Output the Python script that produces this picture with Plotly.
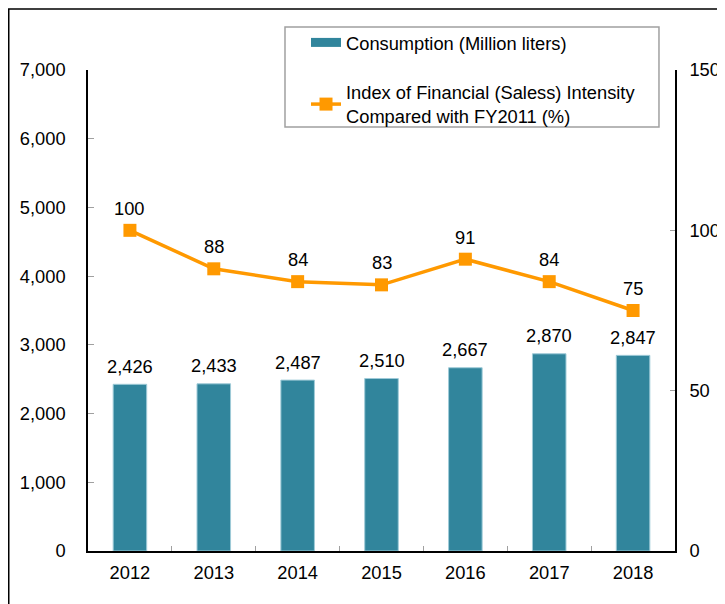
import plotly.graph_objects as go

years = ["2012", "2013", "2014", "2015", "2016", "2017", "2018"]
consumption = [2426, 2433, 2487, 2510, 2667, 2870, 2847]
intensity = [100, 88, 84, 83, 91, 84, 75]

bar_name = "Consumption (Million liters)"
line_name = "Index of Financial (Saless) Intensity<br>Compared with FY2011 (%)"

left_ticks = [0, 1000, 2000, 3000, 4000, 5000, 6000, 7000]
right_ticks = [0, 50, 100, 150]

BAR = "#31859C"
ORANGE = "#FF9900"
FONT = "Liberation Sans, Arial, sans-serif"
FS = 18.3

fig = go.Figure()

fig.add_trace(go.Bar(
    x=years, y=consumption, name=bar_name,
    marker=dict(color=BAR, line=dict(color="#9FCBD8", width=1)),
    width=0.4, showlegend=False,
))
# legend stand-in so the key shows a wide flat bar like the original
fig.add_trace(go.Scatter(
    x=[None], y=[None], name=bar_name, mode="lines",
    line=dict(color=BAR, width=9), legendgroup="a",
))
fig.add_trace(go.Scatter(
    x=years, y=intensity, name=line_name, yaxis="y2",
    mode="lines+markers",
    line=dict(color=ORANGE, width=3.5),
    marker=dict(symbol="square", size=13, color=ORANGE),
    legendgroup="b",
))

# value labels (category index positions)
for i, v in enumerate(consumption):
    fig.add_annotation(x=i, y=v, text=f"{v:,}", showarrow=False,
                       yanchor="middle", yshift=18,
                       font=dict(size=FS, color="#000"))
for i, v in enumerate(intensity):
    fig.add_annotation(x=i, y=v, yref="y2", text=str(v), showarrow=False,
                       yanchor="middle", yshift=22,
                       font=dict(size=FS, color="#000"))

# legend box and outer frame
fig.add_shape(type="rect", xref="paper", yref="paper",
              x0=0.3356, x1=0.9727, y0=0.8815, y1=1.0894,
              line=dict(color="#A0A0A0", width=1.5))
fig.add_shape(type="rect", xref="paper", yref="paper",
              x0=-0.135, x1=1.5, y0=-0.5, y1=1.1268,
              line=dict(color="#000", width=1.5), layer="above")

# the page adds an 8px body margin, so the figure is drawn 8px smaller
fig.update_layout(
    width=717, height=596,
    margin=dict(l=80, r=50, t=62, b=53),
    paper_bgcolor="white", plot_bgcolor="white",
    font=dict(family=FONT, size=FS, color="#000"),
    showlegend=True,
    legend=dict(
        x=0.3714, y=1.0956, xanchor="left", yanchor="top",
        borderwidth=0, bgcolor="rgba(0,0,0,0)",
        traceorder="grouped", tracegroupgap=23,
        font=dict(size=FS), itemwidth=30,
    ),
    xaxis=dict(
        type="category", showline=True, linecolor="#000", linewidth=1.5,
        ticks="inside", tickson="boundaries", ticklen=5, tickcolor="#A0A0A0",
        showgrid=False, ticklabelstandoff=4, automargin=False,
    ),
    yaxis=dict(
        range=[0, 7000], tickvals=left_ticks, tickformat=",d",
        showline=True, linecolor="#000", linewidth=1.5,
        ticks="inside", ticklen=6, tickcolor="#A0A0A0",
        showgrid=False, zeroline=False, ticklabelstandoff=17, automargin=False,
    ),
    yaxis2=dict(
        range=[0, 150], tickvals=right_ticks, overlaying="y", side="right",
        showline=True, linecolor="#000", linewidth=1.5,
        ticks="inside", ticklen=5, tickcolor="#A0A0A0",
        showgrid=False, zeroline=False, ticklabelstandoff=9, automargin=False,
    ),
)

fig.write_html("out.html")
